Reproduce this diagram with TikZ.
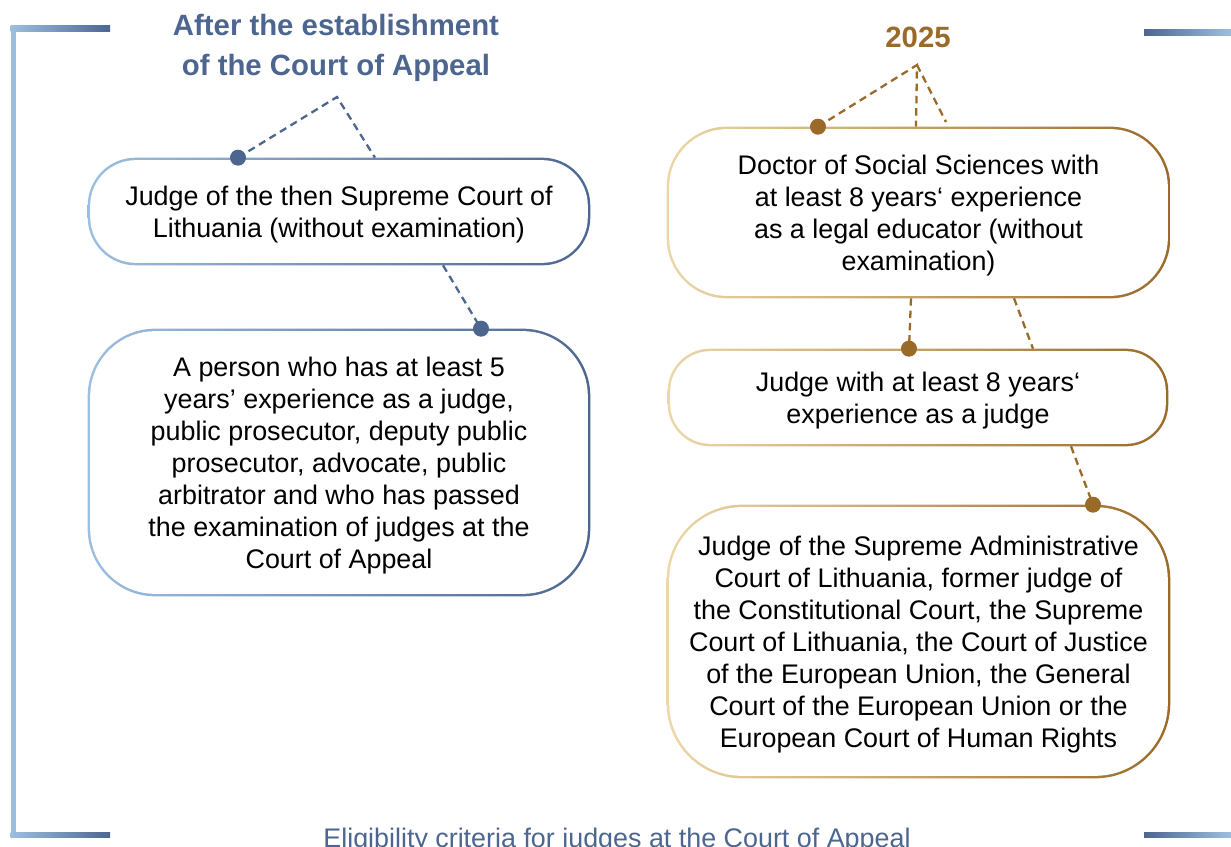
\documentclass[tikz,border=0pt]{standalone}
\usepackage{fontspec}
\setmainfont{Liberation Sans}
\usepackage{tikz}
\usetikzlibrary{backgrounds}
\usepackage{xcolor}

\definecolor{blueD}{HTML}{4C6690}
\definecolor{blueL}{HTML}{9DBFDF}
\definecolor{goldD}{HTML}{9A6A28}
\definecolor{goldL}{HTML}{ECD7A8}

\tikzset{
	crit/.style={inner sep=0pt, align=center, text=black, text depth=-1.8pt,
		font=\fontsize{15.3}{18.2}\selectfont},
	head/.style={inner sep=0pt, align=center,
		font=\bfseries\fontsize{16.7}{22.7}\selectfont},
	linkB/.style={blueD, line width=1.3pt, dash pattern=on 4.2pt off 2.8pt},
	linkG/.style={goldD, line width=1.3pt, dash pattern=on 4.2pt off 2.8pt}
}

\begin{document}
\begin{tikzpicture}[x=0.02cm,y=-0.02cm]
		\useasboundingbox (0,0) rectangle (1231,847);
		
		\fill[blueL] (10.5,26) rectangle (16,837.7);
		
		\shade[left color=blueL,right color=blueD] (10.5,26) rectangle (110,31.5);
		
		\shade[left color=blueL,right color=blueD] (10.5,832.3) rectangle (110,837.7);
		
		\shade[left color=blueD,right color=blueL] (1144,30) rectangle (1231,35.7);
		
		\shade[left color=blueD,right color=blueL] (1144,832.3) rectangle (1231,837.7);
		
		\node[head, text=blueD] (after) at (336,47.5) 
		{After the establishment\\of the Court of Appeal};
		
		\node[head, text=goldD] (year) at (918,37.5) {2025};
		
		\node[crit, minimum width=10.04cm, minimum height=2.14cm] (judgeSC) 
		at (339,211.5) {Judge of the then Supreme Court of\\Lithuania (without examination)};
		
		\node[crit, minimum width=10.04cm, minimum height=5.34cm] (person) 
		at (339,462.5) {A person who has at least 5\\years’ experience as a judge,\\public prosecutor, deputy public\\prosecutor, advocate, public\\arbitrator and who has passed\\the examination of judges at the\\Court of Appeal};
		
		\node[crit, minimum width=10.06cm, minimum height=3.42cm] (doctor) 
		at (918.5,212.5) {Doctor of Social Sciences with\\at least 8 years‘ experience\\as a legal educator (without\\examination)};
		
		\node[crit, minimum width=10cm, minimum height=1.94cm] (judge8) 
		at (918,397.5) {Judge with at least 8 years‘\\experience as a judge};
		
		\node[crit, minimum width=10.06cm, minimum height=5.46cm] (former) 
		at (918.5,641.5) {Judge of the Supreme Administrative\\Court of Lithuania, former judge of\\the Constitutional Court, the Supreme\\Court of Lithuania, the Court of Justice\\of the European Union, the General\\Court of the European Union or the\\European Court of Human Rights};
		
		\node[anchor=base, text=blueD, inner sep=0pt, 
		font=\fontsize{15.3}{18.2}\selectfont] (caption) at (617,847.5) 
		{Eligibility criteria for judges at the Court of Appeal};
		
		\begin{scope}[on background layer]
			\shade[left color=blueL,right color=blueD,rounded corners=0.96cm] 
			(judgeSC.south west) rectangle (judgeSC.north east);
			\fill[white,rounded corners=0.91cm] 
			([shift={(0.05cm,0.05cm)}]judgeSC.south west) rectangle 
			([shift={(-0.05cm,-0.05cm)}]judgeSC.north east);
			
			\shade[left color=blueL,right color=blueD,rounded corners=1.35cm] 
			(person.south west) rectangle (person.north east);
			\fill[white,rounded corners=1.3cm] 
			([shift={(0.05cm,0.05cm)}]person.south west) rectangle 
			([shift={(-0.05cm,-0.05cm)}]person.north east);
			
			\shade[left color=goldL,right color=goldD,rounded corners=1.2cm] 
			(doctor.south west) rectangle (doctor.north east);
			\fill[white,rounded corners=1.15cm] 
			([shift={(0.05cm,0.05cm)}]doctor.south west) rectangle 
			([shift={(-0.05cm,-0.05cm)}]doctor.north east);
			
			\shade[left color=goldL,right color=goldD,rounded corners=0.85cm] 
			(judge8.south west) rectangle (judge8.north east);
			\fill[white,rounded corners=0.8cm] 
			([shift={(0.05cm,0.05cm)}]judge8.south west) rectangle 
			([shift={(-0.05cm,-0.05cm)}]judge8.north east);
			
			\shade[left color=goldL,right color=goldD,rounded corners=1.5cm] 
			(former.south west) rectangle (former.north east);
			\fill[white,rounded corners=1.45cm] 
			([shift={(0.05cm,0.05cm)}]former.south west) rectangle 
			([shift={(-0.05cm,-0.05cm)}]former.north east);
		\end{scope}
		
		\coordinate (apexL) at (337,97);
		\coordinate (dotSC) at (238,0 |- judgeSC.north);
		\coordinate (legSC) at (375,0 |- judgeSC.north);
		\draw[linkB] (dotSC) -- (apexL) -- (legSC);
		
		\coordinate (footSC) at (443,0 |- judgeSC.south);
		\coordinate (dotPers) at (481,0 |- person.north);
		\draw[linkB] (footSC) -- (dotPers);
		
		\fill[blueD] (dotSC) circle[radius=8];
		\fill[blueD] (dotPers) circle[radius=8];
		
		\coordinate (apexR) at (917,65);
		\coordinate (dotDr) at (818,0 |- doctor.north);
		\coordinate (midDr) at (916,0 |- doctor.north);
		\coordinate (legDr) at (946,122);
		\draw[linkG] (dotDr) -- (apexR) -- (midDr);
		\draw[linkG] (apexR) -- (legDr);
		
		\coordinate (footDr) at (911,0 |- doctor.south);
		\coordinate (dotJ8) at (909,0 |- judge8.north);
		\draw[linkG] (footDr) -- (dotJ8);
		
		\coordinate (footDr2) at (1014,0 |- doctor.south);
		\coordinate (legJ8) at (1033,0 |- judge8.north);
		\draw[linkG] (footDr2) -- (legJ8);
		
		\coordinate (footJ8) at (1071,0 |- judge8.south);
		\coordinate (dotFm) at (1093,0 |- former.north);
		\draw[linkG] (footJ8) -- (dotFm);
		
		\fill[goldD] (dotDr) circle[radius=8];
		\fill[goldD] (dotJ8) circle[radius=8];
		\fill[goldD] (dotFm) circle[radius=8];
	\end{tikzpicture}
\end{document}
